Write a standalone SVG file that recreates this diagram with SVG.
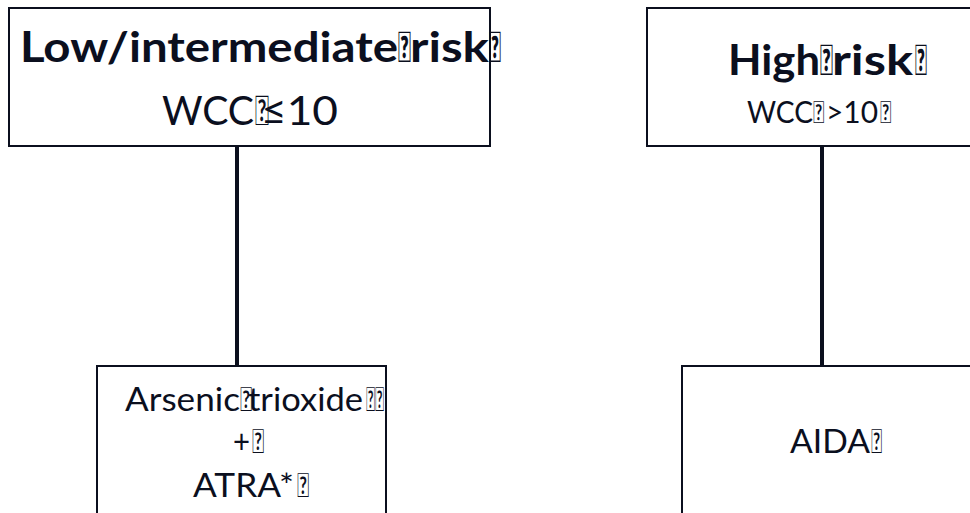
<svg xmlns="http://www.w3.org/2000/svg" width="970" height="513" viewBox="0 0 970 513">
<style>
.box{fill:#fff;stroke:#0b0f1e;stroke-width:2}
.conn{stroke:#0b0f1e;stroke-width:4;fill:none}
.t{font-family:Lato,"Liberation Sans",sans-serif;fill:#0b0f1e}
.b{font-weight:bold}
</style>
<rect width="970" height="513" fill="#fff"/>
<g id="connectors">
<line class="conn" x1="237" y1="146" x2="237" y2="366"/>
<line class="conn" x1="822" y1="146" x2="822" y2="366"/>
</g>
<g id="low-risk">
<rect class="box" x="9" y="8" width="481" height="138"/>
<text class="t b" font-size="42" y="62"><tspan x="20" textLength="378" lengthAdjust="spacingAndGlyphs">Low/intermediate</tspan><tspan x="398" textLength="13" lengthAdjust="spacingAndGlyphs">&#xE000;</tspan><tspan x="410" textLength="79" lengthAdjust="spacingAndGlyphs">risk</tspan><tspan x="489" textLength="12" lengthAdjust="spacingAndGlyphs">&#xE000;</tspan></text>
<text class="t" font-size="41" y="125"><tspan x="162" textLength="92" lengthAdjust="spacingAndGlyphs">WCC</tspan><tspan x="255" textLength="14" lengthAdjust="spacingAndGlyphs">&#xE000;</tspan><tspan x="261" textLength="77" lengthAdjust="spacingAndGlyphs">≤10</tspan></text>
</g>
<g id="high-risk">
<rect class="box" x="647" y="8" width="340" height="138"/>
<text class="t b" font-size="42" y="75"><tspan x="728" textLength="92" lengthAdjust="spacingAndGlyphs">High</tspan><tspan x="820" textLength="13" lengthAdjust="spacingAndGlyphs">&#xE000;</tspan><tspan x="832" textLength="81" lengthAdjust="spacingAndGlyphs">risk</tspan><tspan x="915" textLength="12" lengthAdjust="spacingAndGlyphs">&#xE000;</tspan></text>
<text class="t" font-size="30" y="123"><tspan x="747" textLength="66" lengthAdjust="spacingAndGlyphs">WCC</tspan><tspan x="813" textLength="11" lengthAdjust="spacingAndGlyphs">&#xE000;</tspan><tspan x="826" textLength="52" lengthAdjust="spacingAndGlyphs">&gt;10</tspan><tspan x="880" textLength="11" lengthAdjust="spacingAndGlyphs">&#xE000;</tspan></text>
</g>
<g id="ato-atra">
<rect class="box" x="97" y="366" width="289" height="170"/>
<text class="t" font-size="33" y="411"><tspan x="125" textLength="115" lengthAdjust="spacingAndGlyphs">Arsenic</tspan><tspan x="240" textLength="12" lengthAdjust="spacingAndGlyphs">&#xE000;</tspan><tspan x="248" textLength="115" lengthAdjust="spacingAndGlyphs">trioxide</tspan><tspan x="366" textLength="18" lengthAdjust="spacingAndGlyphs">&#xE000;&#xE000;</tspan></text>
<text class="t" font-size="33" y="453"><tspan x="233" textLength="17" lengthAdjust="spacingAndGlyphs">+</tspan><tspan x="252" textLength="12" lengthAdjust="spacingAndGlyphs">&#xE000;</tspan></text>
<text class="t" font-size="33" y="497"><tspan x="193" textLength="101" lengthAdjust="spacingAndGlyphs">ATRA*</tspan><tspan x="297" textLength="12" lengthAdjust="spacingAndGlyphs">&#xE000;</tspan></text>
</g>
<g id="aida">
<rect class="box" x="682" y="366" width="305" height="170"/>
<text class="t" font-size="33" y="453"><tspan x="790" textLength="80" lengthAdjust="spacingAndGlyphs">AIDA</tspan><tspan x="871" textLength="11" lengthAdjust="spacingAndGlyphs">&#xE000;</tspan></text>
</g>
</svg>
